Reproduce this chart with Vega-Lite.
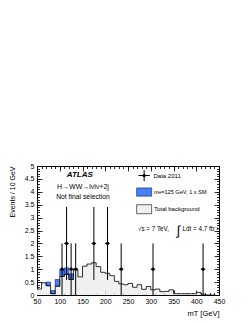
{
"$schema": "https://vega.github.io/schema/vega-lite/v6.json",
"width": 182, "height": 129,
"autosize": {"type": "none"},
"padding": {"left": 37, "top": 166, "right": 30, "bottom": 28},
"background": "white",
"config": {"view": {"stroke": "black", "strokeWidth": 1}, "font": "Liberation Sans",
  "axis": {"grid": false, "domain": false, "tickColor": "black", "labelColor": "black", "titleColor": "black", "labelFont": "Liberation Sans", "titleFont": "Liberation Sans", "tickWidth": 0.8, "titleFontWeight": "normal"}},
"datasets": {
 "bins": [
  {"lo":50,"hi":60,"bkg":0.23},{"lo":60,"hi":70,"bkg":0.47},{"lo":70,"hi":80,"bkg":0.36},{"lo":80,"hi":90,"bkg":0.05},
  {"lo":90,"hi":100,"bkg":0.34},{"lo":100,"hi":110,"bkg":0.72},{"lo":110,"hi":120,"bkg":0.8},{"lo":120,"hi":130,"bkg":0.6},
  {"lo":130,"hi":140,"bkg":0.98},{"lo":140,"hi":150,"bkg":0.7},{"lo":150,"hi":160,"bkg":1.12},{"lo":160,"hi":170,"bkg":1.2},
  {"lo":170,"hi":180,"bkg":1.25},{"lo":180,"hi":190,"bkg":1.1},{"lo":190,"hi":200,"bkg":0.88},{"lo":200,"hi":210,"bkg":0.84},
  {"lo":210,"hi":220,"bkg":0.75},{"lo":220,"hi":230,"bkg":0.53},{"lo":230,"hi":240,"bkg":0.43},{"lo":240,"hi":250,"bkg":0.4},
  {"lo":250,"hi":260,"bkg":0.45},{"lo":260,"hi":270,"bkg":0.3},{"lo":270,"hi":280,"bkg":0.4},{"lo":280,"hi":290,"bkg":0.22},
  {"lo":290,"hi":300,"bkg":0.33},{"lo":300,"hi":310,"bkg":0.2},{"lo":310,"hi":320,"bkg":0.23},{"lo":320,"hi":330,"bkg":0.13},
  {"lo":330,"hi":340,"bkg":0.14},{"lo":340,"hi":350,"bkg":0.2},{"lo":350,"hi":360,"bkg":0.05},{"lo":360,"hi":370,"bkg":0.05},
  {"lo":370,"hi":380,"bkg":0.05},{"lo":380,"hi":390,"bkg":0.05},{"lo":390,"hi":400,"bkg":0.05},{"lo":400,"hi":410,"bkg":0.1},
  {"lo":410,"hi":420,"bkg":0.03},{"lo":420,"hi":430,"bkg":0.0},{"lo":430,"hi":440,"bkg":0.0},{"lo":440,"hi":450,"bkg":0.0}
 ],
 "sig": [
  {"lo":70,"hi":80,"bkg":0.36,"tot":0.5},{"lo":80,"hi":90,"bkg":0.05,"tot":0.17},{"lo":90,"hi":100,"bkg":0.34,"tot":0.6},
  {"lo":100,"hi":110,"bkg":0.72,"tot":0.98},{"lo":110,"hi":120,"bkg":0.8,"tot":1.05},{"lo":120,"hi":130,"bkg":0.6,"tot":0.82},
  {"lo":130,"hi":140,"bkg":0.98,"tot":1.01}
 ],
 "obs": [
  {"x":105,"lo":100,"hi":110,"n":1,"elo":0,"ehi":2},
  {"x":115,"lo":110,"hi":120,"n":2,"elo":0.586,"ehi":3.414},
  {"x":125,"lo":120,"hi":130,"n":1,"elo":0,"ehi":2},
  {"x":135,"lo":130,"hi":140,"n":1,"elo":0,"ehi":2},
  {"x":175,"lo":170,"hi":180,"n":2,"elo":0.586,"ehi":3.414},
  {"x":205,"lo":200,"hi":210,"n":2,"elo":0.586,"ehi":3.414},
  {"x":235,"lo":230,"hi":240,"n":1,"elo":0,"ehi":2},
  {"x":305,"lo":300,"hi":310,"n":1,"elo":0,"ehi":2},
  {"x":415,"lo":410,"hi":420,"n":1,"elo":0,"ehi":2}
 ]
},
"layer": [
 {"data": {"name": "bins"}, "mark": {"type": "rect", "fill": "#f0f0f0"},
  "encoding": {
   "x": {"field": "lo", "type": "quantitative", "scale": {"domain": [50,450], "nice": false, "zero": false},
     "axis": {"orient": "bottom", "values": [50,100,150,200,250,300,350,400,450], "tickSize": -5, "labelFontSize": 7, "labelPadding": 7, "labelFlush": false, "title": "mT [GeV]", "titleAnchor": "end", "titleAlign": "right", "titleFontSize": 7.5, "titlePadding": 5}},
   "x2": {"field": "hi"},
   "y": {"field": "bkg", "type": "quantitative", "scale": {"domain": [0,5], "nice": false, "zero": true},
     "axis": {"orient": "left", "values": [0,0.5,1,1.5,2,2.5,3,3.5,4,4.5,5], "format": "~g", "tickSize": -5, "labelFontSize": 7, "labelPadding": 8, "labelFlush": false, "title": "Events / 10 GeV", "titleAnchor": "end", "titleAlign": "right", "titleFontSize": 7, "titlePadding": 9}},
   "y2": {"datum": 0}
  }},
 {"data": {"name": "sig"}, "mark": {"type": "rect", "fill": "#4a7ff0", "stroke": "#0a1a80", "strokeWidth": 0.6},
  "encoding": {
   "x": {"field": "lo", "type": "quantitative", "scale": {"domain": [50,450], "nice": false, "zero": false},
     "axis": {"orient": "bottom", "values": [50,60,70,80,90,100,110,120,130,140,150,160,170,180,190,200,210,220,230,240,250,260,270,280,290,300,310,320,330,340,350,360,370,380,390,400,410,420,430,440,450], "tickSize": -2.5, "labels": false, "title": null}},
   "x2": {"field": "hi"},
   "y": {"field": "tot", "type": "quantitative", "scale": {"domain": [0,5], "nice": false},
     "axis": {"orient": "left", "values": [0,0.1,0.2,0.3,0.4,0.5,0.6,0.7,0.8,0.9,1,1.1,1.2,1.3,1.4,1.5,1.6,1.7,1.8,1.9,2,2.1,2.2,2.3,2.4,2.5,2.6,2.7,2.8,2.9,3,3.1,3.2,3.3,3.4,3.5,3.6,3.7,3.8,3.9,4,4.1,4.2,4.3,4.4,4.5,4.6,4.7,4.8,4.9,5], "tickSize": -2.5, "labels": false, "title": null}},
   "y2": {"field": "bkg"}
  }},
 {"data": {"name": "bins"}, "mark": {"type": "line", "interpolate": "step-after", "color": "black", "strokeWidth": 0.8},
  "encoding": {
   "x": {"field": "lo", "type": "quantitative", "scale": {"domain": [50,450], "nice": false, "zero": false},
     "axis": {"orient": "top", "values": [50,100,150,200,250,300,350,400,450], "tickSize": -5, "labels": false, "title": null}},
   "y": {"field": "bkg", "type": "quantitative", "scale": {"domain": [0,5], "nice": false},
     "axis": {"orient": "right", "values": [0,0.5,1,1.5,2,2.5,3,3.5,4,4.5,5], "tickSize": -5, "labels": false, "title": null}}
  }},
 {"data": {"name": "obs"}, "mark": {"type": "rule", "color": "black", "strokeWidth": 1},
  "encoding": {
   "x": {"field": "x", "type": "quantitative", "scale": {"domain": [50,450], "nice": false, "zero": false},
     "axis": {"orient": "top", "values": [50,60,70,80,90,100,110,120,130,140,150,160,170,180,190,200,210,220,230,240,250,260,270,280,290,300,310,320,330,340,350,360,370,380,390,400,410,420,430,440,450], "tickSize": -2.5, "labels": false, "title": null}},
   "y": {"field": "elo", "type": "quantitative", "scale": {"domain": [0,5], "nice": false},
     "axis": {"orient": "right", "values": [0,0.1,0.2,0.3,0.4,0.5,0.6,0.7,0.8,0.9,1,1.1,1.2,1.3,1.4,1.5,1.6,1.7,1.8,1.9,2,2.1,2.2,2.3,2.4,2.5,2.6,2.7,2.8,2.9,3,3.1,3.2,3.3,3.4,3.5,3.6,3.7,3.8,3.9,4,4.1,4.2,4.3,4.4,4.5,4.6,4.7,4.8,4.9,5], "tickSize": -2.5, "labels": false, "title": null}},
   "y2": {"field": "ehi"}
  }},
 {"data": {"name": "obs"}, "mark": {"type": "rule", "color": "black", "strokeWidth": 1},
  "encoding": {
   "x": {"field": "lo", "type": "quantitative", "scale": {"domain": [50,450], "nice": false, "zero": false}, "axis": null},
   "x2": {"field": "hi"},
   "y": {"field": "n", "type": "quantitative", "scale": {"domain": [0,5], "nice": false}, "axis": null}
  }},
 {"data": {"name": "obs"}, "mark": {"type": "point", "filled": true, "color": "black", "size": 10, "opacity": 1},
  "encoding": {
   "x": {"field": "x", "type": "quantitative", "scale": {"domain": [50,450], "nice": false, "zero": false}, "axis": null},
   "y": {"field": "n", "type": "quantitative", "scale": {"domain": [0,5], "nice": false}, "axis": null}
  }},
 {"data": {"values": [{}]}, "mark": {"type": "text", "text": "ATLAS", "fontSize": 8, "fontWeight": "bold", "fontStyle": "italic", "align": "center", "baseline": "middle", "color": "black"},
  "encoding": {"x": {"datum": 144, "type": "quantitative", "axis": null}, "y": {"datum": 4.67, "type": "quantitative", "axis": null}}},
 {"data": {"values": [{}]}, "mark": {"type": "text", "text": "H→WW→lνlν+2j", "fontSize": 7, "align": "center", "baseline": "middle", "color": "black"},
  "encoding": {"x": {"datum": 151, "type": "quantitative", "axis": null}, "y": {"datum": 4.19, "type": "quantitative", "axis": null}}},
 {"data": {"values": [{}]}, "mark": {"type": "text", "text": "Not final selection", "fontSize": 6.8, "align": "center", "baseline": "middle", "color": "black"},
  "encoding": {"x": {"datum": 151, "type": "quantitative", "axis": null}, "y": {"datum": 3.79, "type": "quantitative", "axis": null}}},
 {"data": {"values": [{}]}, "mark": {"type": "rule", "color": "black", "strokeWidth": 1},
  "encoding": {"x": {"datum": 273, "type": "quantitative", "axis": null}, "x2": {"datum": 298}, "y": {"datum": 4.63, "type": "quantitative", "axis": null}}},
 {"data": {"values": [{}]}, "mark": {"type": "rule", "color": "black", "strokeWidth": 1},
  "encoding": {"x": {"datum": 285.5, "type": "quantitative", "axis": null}, "y": {"datum": 4.41, "type": "quantitative", "axis": null}, "y2": {"datum": 4.84}}},
 {"data": {"values": [{}]}, "mark": {"type": "point", "filled": true, "color": "black", "size": 10, "opacity": 1},
  "encoding": {"x": {"datum": 285.5, "type": "quantitative", "axis": null}, "y": {"datum": 4.63, "type": "quantitative", "axis": null}}},
 {"data": {"values": [{}]}, "mark": {"type": "text", "text": "Data 2011", "fontSize": 6, "align": "left", "baseline": "middle", "color": "black"},
  "encoding": {"x": {"datum": 306, "type": "quantitative", "axis": null}, "y": {"datum": 4.63, "type": "quantitative", "axis": null}}},
 {"data": {"values": [{}]}, "mark": {"type": "rect", "fill": "#4a7ff0", "stroke": "#0a1a80", "strokeWidth": 0.6},
  "encoding": {"x": {"datum": 269, "type": "quantitative", "axis": null}, "x2": {"datum": 302}, "y": {"datum": 3.83, "type": "quantitative", "axis": null}, "y2": {"datum": 4.15}}},
 {"data": {"values": [{}]}, "mark": {"type": "text", "text": "m", "fontSize": 5.6, "align": "left", "baseline": "middle", "color": "black"},
  "encoding": {"x": {"datum": 307, "type": "quantitative", "axis": null}, "y": {"datum": 4.0, "type": "quantitative", "axis": null}}},
 {"data": {"values": [{}]}, "mark": {"type": "text", "text": "H", "fontSize": 4, "align": "left", "baseline": "middle", "color": "black"},
  "encoding": {"x": {"datum": 317, "type": "quantitative", "axis": null}, "y": {"datum": 3.94, "type": "quantitative", "axis": null}}},
 {"data": {"values": [{}]}, "mark": {"type": "text", "text": "=125 GeV, 1 x SM", "fontSize": 5.6, "align": "left", "baseline": "middle", "color": "black"},
  "encoding": {"x": {"datum": 323, "type": "quantitative", "axis": null}, "y": {"datum": 4.0, "type": "quantitative", "axis": null}}},
 {"data": {"values": [{}]}, "mark": {"type": "rect", "fill": "#f0f0f0", "stroke": "black", "strokeWidth": 0.6},
  "encoding": {"x": {"datum": 269, "type": "quantitative", "axis": null}, "x2": {"datum": 302}, "y": {"datum": 3.15, "type": "quantitative", "axis": null}, "y2": {"datum": 3.5}}},
 {"data": {"values": [{}]}, "mark": {"type": "text", "text": "Total background", "fontSize": 6, "align": "left", "baseline": "middle", "color": "black"},
  "encoding": {"x": {"datum": 307, "type": "quantitative", "axis": null}, "y": {"datum": 3.33, "type": "quantitative", "axis": null}}},
 {"data": {"values": [{}]}, "mark": {"type": "text", "text": "√s = 7 TeV,", "fontSize": 6.3, "align": "left", "baseline": "middle", "color": "black"},
  "encoding": {"x": {"datum": 272, "type": "quantitative", "axis": null}, "y": {"datum": 2.56, "type": "quantitative", "axis": null}}},
 {"data": {"values": [{}]}, "mark": {"type": "text", "text": "∫", "fontSize": 13, "align": "center", "baseline": "middle", "color": "black"},
  "encoding": {"x": {"datum": 361, "type": "quantitative", "axis": null}, "y": {"datum": 2.5, "type": "quantitative", "axis": null}}},
 {"data": {"values": [{}]}, "mark": {"type": "text", "text": "Ldt = 4.7 fb⁻¹", "fontSize": 6.3, "align": "left", "baseline": "middle", "color": "black"},
  "encoding": {"x": {"datum": 370, "type": "quantitative", "axis": null}, "y": {"datum": 2.56, "type": "quantitative", "axis": null}}}
],
"resolve": {"axis": {"x": "independent", "y": "independent"}}
}
